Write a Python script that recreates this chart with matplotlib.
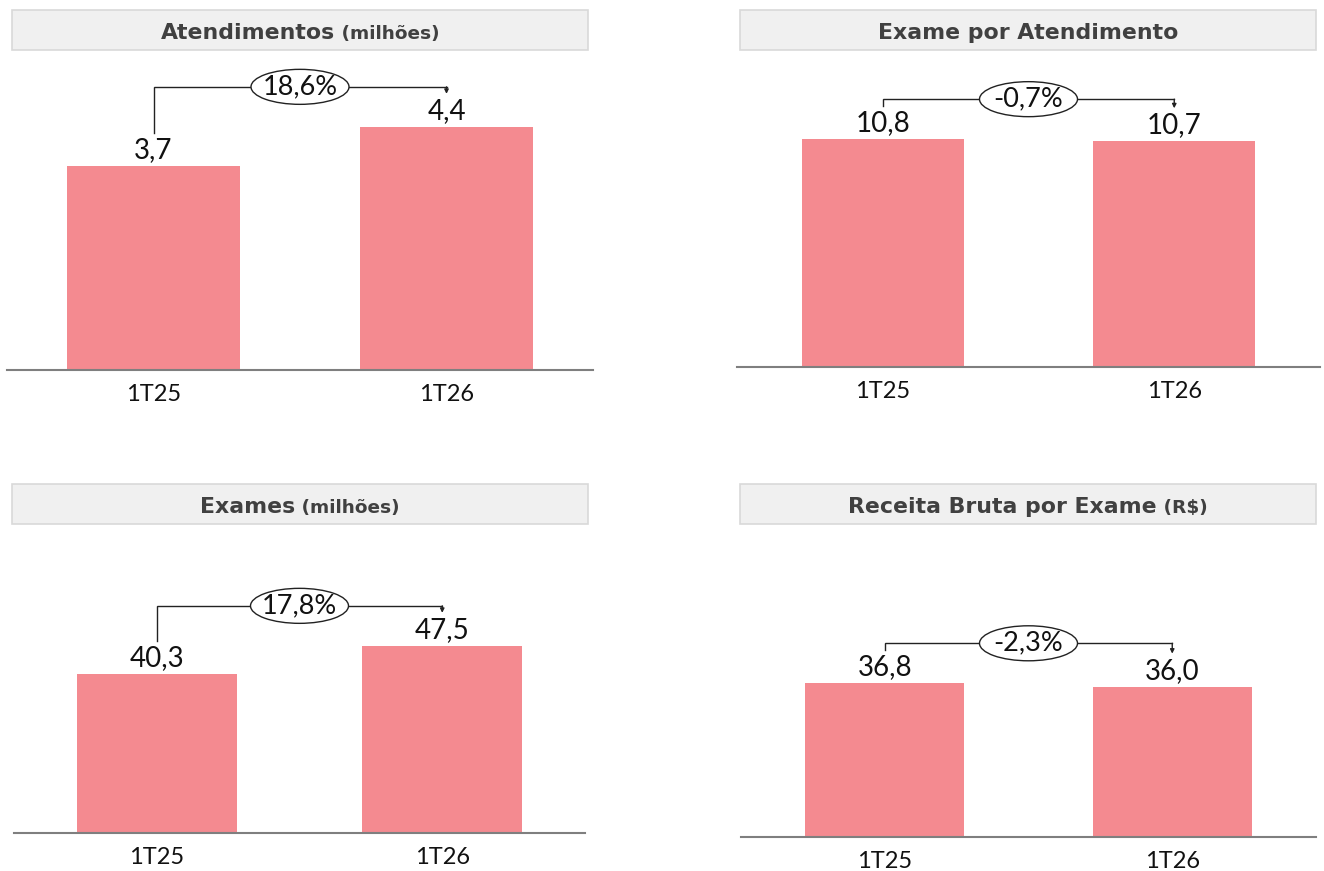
import matplotlib
matplotlib.use("Agg")
import matplotlib.pyplot as plt
from matplotlib.patches import Rectangle, Ellipse
from matplotlib.offsetbox import TextArea, HPacker, AnnotationBbox

plt.rcParams["font.family"] = ["Lato", "DejaVu Sans"]

W, H, DPI = 1324, 871, 100

# ---------------- data ----------------
periods = ["1T25", "1T26"]
atendimentos = [3.7, 4.4]
exame_por_atendimento = [10.8, 10.7]
exames = [40.3, 47.5]
receita_por_exame = [36.8, 36.0]
var_labels = ["18,6%", "-0,7%", "17,8%", "-2,3%"]
title_main = ["Atendimentos", "Exame por Atendimento", "Exames", "Receita Bruta por Exame"]
title_unit = [" (milhões)", "", " (milhões)", " (R$)"]

# ---------------- layout (pixels) ----------------
panels = [
    dict(data=atendimentos, ax=(7, 593, 370, 55), ymax=5.70, tbox=(12, 10, 588, 50), bw=0.59),
    dict(data=exame_por_atendimento, ax=(737, 1320, 367, 55), ymax=14.79, tbox=(740, 10, 1316, 50), bw=0.555),
    dict(data=exames, ax=(14, 585, 833, 530), ymax=76.9, tbox=(12, 484, 588, 524), bw=0.559),
    dict(data=receita_por_exame, ax=(741, 1316, 837, 530), ymax=73.5, tbox=(740, 484, 1316, 524), bw=0.553),
]

BAR = "#F48A90"
LINE = "#222222"
TITLE_C = "#404040"
TITLE_FONT = ["DejaVu Sans"]

fig = plt.figure(figsize=(W / DPI, H / DPI), dpi=DPI)


def fx(x):
    return x / W


def fy(y):
    return 1 - y / H


def fmt(v):
    return f"{v:.1f}".replace(".", ",")


for i, p in enumerate(panels):
    x0, x1, yb, yt = p["ax"]
    ax = fig.add_axes([fx(x0), fy(yb), (x1 - x0) / W, (yb - yt) / H])
    vals = p["data"]
    xs = list(range(len(vals)))
    ax.bar(xs, vals, width=p["bw"], color=BAR, zorder=2)
    ax.set_xlim(-0.5, 1.5)
    ax.set_ylim(0, p["ymax"])
    for s in ["top", "right", "left"]:
        ax.spines[s].set_visible(False)
    ax.spines["bottom"].set_color("#7F7F7F")
    ax.spines["bottom"].set_linewidth(1.5)
    ax.set_yticks([])
    ax.set_xticks(xs, periods, fontsize=17, color="#111111")
    ax.tick_params(axis="x", length=0, pad=10)

    ppu = (yb - yt) / p["ymax"]
    ppx = (x1 - x0) / 2.0

    for xv, v in zip(xs, vals):
        ax.annotate(fmt(v), (xv, v), xytext=(0, 2), textcoords="offset points",
                    ha="center", va="bottom", fontsize=20, color="#111111")

    ybr = max(vals) + 40 / ppu
    yl = vals[0] + 33 / ppu
    yr = vals[1] + 33 / ppu
    ax.plot([0, 0, 1], [yl, ybr, ybr], color=LINE, lw=1, clip_on=False, zorder=3,
            solid_joinstyle="miter")
    ax.annotate("", xy=(1, yr), xytext=(1, ybr),
                arrowprops=dict(arrowstyle="-|>", lw=1, color=LINE, mutation_scale=6,
                                shrinkA=0, shrinkB=0), annotation_clip=False)
    ax.add_patch(Ellipse((0.5, ybr), 98 / ppx, 35 / ppu, facecolor="white",
                         edgecolor=LINE, lw=1, zorder=4, clip_on=False))
    ax.text(0.5, ybr, var_labels[i], ha="center", va="center", fontsize=19.5,
            color="#111111", zorder=5)

    # title box
    tx0, ty0, tx1, ty1 = p["tbox"]
    fig.patches.append(Rectangle((fx(tx0), fy(ty1)), (tx1 - tx0) / W, (ty1 - ty0) / H,
                                 transform=fig.transFigure, facecolor="#F0F0F0",
                                 edgecolor="#D9D9D9", lw=1.2, zorder=0))
    parts = [TextArea(title_main[i], textprops=dict(fontsize=15.8, fontweight="bold",
                                                    color=TITLE_C, family=TITLE_FONT))]
    if title_unit[i]:
        parts.append(TextArea(title_unit[i], textprops=dict(fontsize=13.3, fontweight="bold",
                                                            color=TITLE_C, family=TITLE_FONT)))
    pack = HPacker(children=parts, align="baseline", pad=0, sep=0)
    ab = AnnotationBbox(pack, (fx((tx0 + tx1) / 2), fy((ty0 + ty1) / 2 + 3)), xycoords="figure fraction",
                        box_alignment=(0.5, 0.5), frameon=False)
    fig.add_artist(ab)

fig.savefig("out.png", dpi=DPI)
